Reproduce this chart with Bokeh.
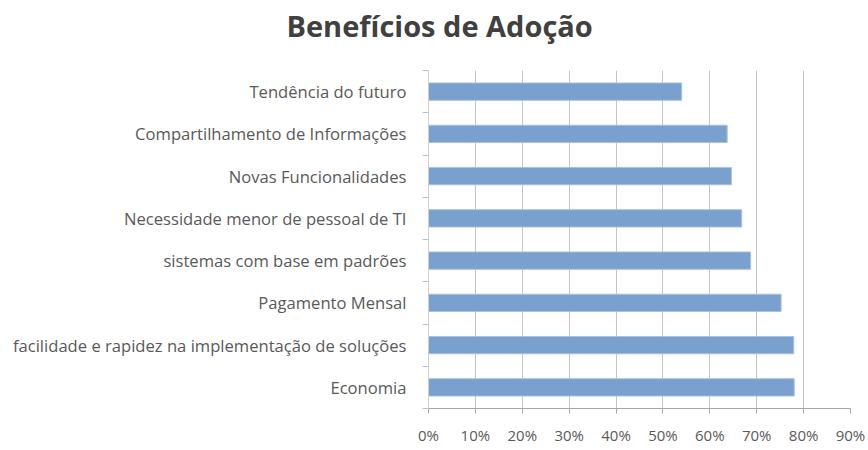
from bokeh.plotting import figure
from bokeh.models import FixedTicker, NumeralTickFormatter, ColumnDataSource, Range1d, Title
from bokeh.embed import file_html
from bokeh.resources import INLINE

title_text = "Benefícios de Adoção"
categories = [
    "Economia",
    "facilidade e rapidez na implementação de soluções",
    "Pagamento Mensal",
    "sistemas com base em padrões",
    "Necessidade menor de pessoal de TI",
    "Novas Funcionalidades",
    "Compartilhamento de Informações",
    "Tendência do futuro",
]
values = [0.78, 0.779, 0.752, 0.687, 0.668, 0.646, 0.637, 0.54]
x_ticks = [0, 0.1, 0.2, 0.3, 0.4, 0.5, 0.6, 0.7, 0.8, 0.9]

n = len(categories)
ypos = [i + 0.5 for i in range(n)]
src = ColumnDataSource(dict(y=ypos, v=values, name=categories))

p = figure(width=868, height=450, output_backend="svg", toolbar_location=None,
           x_range=Range1d(0, 0.9), y_range=Range1d(0, n), title=None,
           min_border_left=428, min_border_right=18, min_border_bottom=42, min_border_top=70)
p.outline_line_color = None
p.background_fill_color = "white"
p.border_fill_color = "white"

# spacer (closest to the frame), then the real title above it
p.add_layout(Title(text=" ", text_font_size="1px", standoff=23), "above")
p.add_layout(Title(text=title_text, align="left", offset=-142,
                   text_font="Open Sans", text_font_size="29px", text_font_style="bold",
                   text_color="#404040", standoff=0), "above")

p.hbar(y="y", right="v", left=0, height=0.41, source=src,
       fill_color="#7aa0cd", line_color="#a9c1e2", line_width=1)

# x axis
p.xaxis.ticker = FixedTicker(ticks=x_ticks)
p.xaxis.formatter = NumeralTickFormatter(format="0%")
p.xaxis.axis_line_color = "#a6a6a6"
p.xaxis.major_tick_line_color = "#a6a6a6"
p.xaxis.major_tick_out = 5
p.xaxis.major_tick_in = 0
p.xaxis.minor_tick_line_color = None
p.xaxis.major_label_text_font = "Open Sans"
p.xaxis.major_label_text_font_size = "15px"
p.xaxis.major_label_text_color = "#595959"
p.xaxis.major_label_standoff = 11

# y axis
p.yaxis.ticker = FixedTicker(ticks=ypos, minor_ticks=list(range(n + 1)))
p.yaxis.major_label_overrides = {y: c for y, c in zip(ypos, categories)}
p.yaxis.axis_line_color = "#d0d0d0"
p.yaxis.major_tick_line_color = None
p.yaxis.minor_tick_line_color = "#bfbfbf"
p.yaxis.minor_tick_out = 6
p.yaxis.minor_tick_in = 0
p.yaxis.major_label_text_font = "Open Sans"
p.yaxis.major_label_text_font_size = "16.6px"
p.yaxis.major_label_text_color = "#595959"
p.yaxis.major_label_standoff = 16

p.xgrid.ticker = FixedTicker(ticks=x_ticks)
p.xgrid.grid_line_color = "#c4c4c4"
p.ygrid.grid_line_color = None

open("out.html", "w").write(file_html(p, INLINE))
